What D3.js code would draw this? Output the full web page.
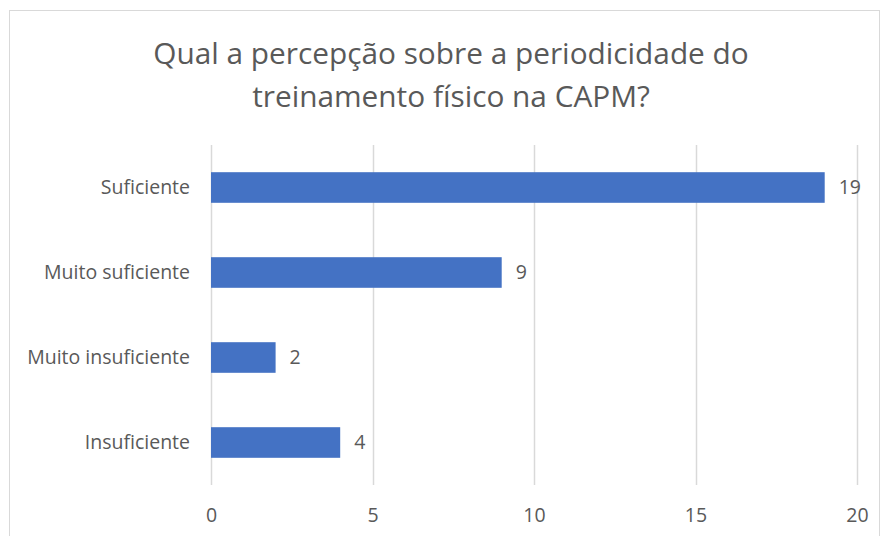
<!DOCTYPE html>
<html lang="pt">
<head>
<meta charset="UTF-8">
<title>Periodicidade do treinamento físico</title>
<script src="https://cdn.jsdelivr.net/npm/d3@7/dist/d3.min.js"></script>
<style>
	body { margin: 0; background: #fff; }
	text { font-family: "Open Sans", "Noto Sans", sans-serif; fill: #595959; }
</style>
</head>
<body>
<div id="chart"></div>
<script>
	var categories = ["Suficiente", "Muito suficiente", "Muito insuficiente", "Insuficiente"];
	var values = [19, 9, 2, 4];
	var xTicks = [0, 5, 10, 15, 20];
	var titleLines = ["Qual a percepção sobre a periodicidade do", "treinamento físico na CAPM?"];

	var width = 882, height = 536;
	var barColor = "#4472C4";
	var gridColor = "#d9d9d9";
	var labelSize = "19.5px";

	var svg = d3.select("#chart").append("svg")
		.attr("width", width)
		.attr("height", height);

	// chart frame
	svg.append("rect")
		.attr("x", 9.5).attr("y", 10.5)
		.attr("width", 870).attr("height", 540)
		.attr("fill", "#fff")
		.attr("stroke", "#d9d9d9");

	svg.selectAll(".title")
		.data(titleLines)
		.enter().append("text")
		.attr("class", "title")
		.attr("x", 451)
		.attr("y", function(d, i){ return 64 + i * 43; })
		.attr("text-anchor", "middle")
		.style("font-size", "29.8px")
		.text(function(d){ return d; });

	var x = d3.scaleLinear().domain([0, 20]).range([211, 857]);
	var y = d3.scaleBand()
		.domain(categories)
		.range([145, 485])
		.paddingInner(0.64)
		.paddingOuter(0.32);

	// gridlines
	svg.selectAll(".grid")
		.data(xTicks)
		.enter().append("line")
		.attr("class", "grid")
		.attr("x1", function(d){ return Math.round(x(d)) + 0.5; })
		.attr("x2", function(d){ return Math.round(x(d)) + 0.5; })
		.attr("y1", 145).attr("y2", 485)
		.attr("stroke", gridColor)
		.attr("stroke-width", 1.5);

	// x axis labels
	var xAxis = d3.axisBottom(x).tickValues(xTicks).tickSize(0).tickPadding(0);
	var gx = svg.append("g")
		.attr("transform", "translate(0,522)")
		.call(xAxis);
	gx.select(".domain").remove();
	gx.selectAll("text")
		.attr("dy", 0)
		.style("font-size", labelSize)
		.style("font-family", "'Open Sans', 'Noto Sans', sans-serif")
		.attr("fill", "#595959");

	// y axis labels
	var yAxis = d3.axisLeft(y).tickSize(0).tickPadding(0);
	var gy = svg.append("g")
		.attr("transform", "translate(190,0)")
		.call(yAxis);
	gy.select(".domain").remove();
	gy.selectAll("text")
		.style("font-size", labelSize)
		.style("font-family", "'Open Sans', 'Noto Sans', sans-serif")
		.attr("fill", "#595959");

	// bars
	svg.selectAll(".bar")
		.data(values)
		.enter().append("rect")
		.attr("class", "bar")
		.attr("x", x(0))
		.attr("y", function(d, i){ return y(categories[i]); })
		.attr("width", function(d){ return x(d) - x(0); })
		.attr("height", y.bandwidth())
		.attr("fill", barColor);

	// value labels
	svg.selectAll(".val")
		.data(values)
		.enter().append("text")
		.attr("class", "val")
		.attr("x", function(d){ return x(d) + 14; })
		.attr("y", function(d, i){ return y(categories[i]) + y.bandwidth() / 2; })
		.attr("dy", "0.35em")
		.style("font-size", labelSize)
		.text(function(d){ return d; });
</script>
</body>
</html>
